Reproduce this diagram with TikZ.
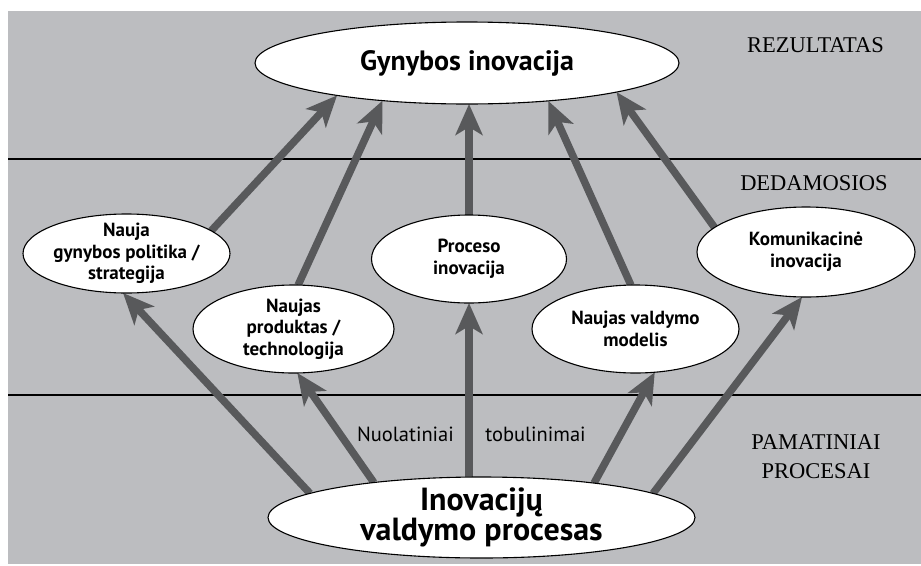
\documentclass[tikz,border=0pt]{standalone}
\usepackage{fontspec}
\setmainfont{Liberation Serif}
\newfontfamily\ovalfont{PT Sans}
\usetikzlibrary{arrows.meta,shapes.geometric}
\definecolor{panelgray}{RGB}{188,189,192}
\definecolor{arrowgray}{RGB}{88,89,91}
\pgfdeclarelayer{bg}
\pgfsetlayers{bg,main}

\begin{document}
\begin{tikzpicture}[x=1pt,y=-1pt,
  oval/.style={ellipse,draw=black,line width=1.1pt,fill=white,inner sep=-20pt,outer sep=0pt,
    align=center,font=\ovalfont\bfseries\fontsize{19}{21.7}\selectfont},
  bigoval/.style={oval,font=\ovalfont\bfseries\fontsize{32}{30}\selectfont},
  flow/.style={draw=arrowgray,line width=7.5pt,-{Stealth[length=31pt,width=27pt,inset=8pt]}},
  levellabel/.style={font=\fontsize{22.5}{29}\selectfont,align=center},
  notelabel/.style={font=\ovalfont\fontsize{20.5}{22}\selectfont}]

  \useasboundingbox (0,0) rectangle (921,565);
  \coordinate (nw) at (8,11);
  \coordinate (se) at (921,564);

  % result level
  \node[bigoval,minimum width=424pt,minimum height=82pt,font=\ovalfont\bfseries\fontsize{28}{30}\selectfont]
    (result) at (467,63) {Gynybos inovacija};

  % components
  \node[oval,minimum width=207pt,minimum height=79pt] (policy) at (126.5,253.5) {Nauja\\gynybos politika /\\strategija};
  \node[oval,minimum width=201pt,minimum height=88pt] (product) at (293.5,329) {Naujas\\produktas /\\technologija};
  \node[oval,minimum width=195pt,minimum height=88pt] (process) at (469,259) {Proceso\\inovacija};
  \node[oval,minimum width=207pt,minimum height=88pt] (model) at (635.5,329) {Naujas valdymo\\modelis};
  \node[oval,minimum width=218pt,minimum height=90pt] (comm) at (806,252) {Komunikacinė\\inovacija};

  % base
  \node[bigoval,minimum width=427pt,minimum height=81pt] (base) at (481.5,517.5) {Inovacijų\\valdymo procesas};

  \node[notelabel] (cont1) at (405.5,434) {Nuolatiniai};
  \node[notelabel] (cont2) at (535.5,434) {tobulinimai};

  \node[levellabel] (lvl1) at (815.5,45) {REZULTATAS};
  \node[levellabel] (lvl2) at (814,183.5) {DEDAMOSIOS};
  \node[levellabel] (lvl3) at (816,456.5) {PAMATINIAI\\PROCESAI};

  \begin{pgfonlayer}{bg}
    \fill[panelgray] (nw) rectangle (se);
    \draw[line width=1.2pt] (nw |- 0,159) -- (se |- 0,159);
    \draw[line width=1.2pt] (nw |- 0,395) -- (se |- 0,395);

    % base to components
    \draw[flow] (base.172.4) -- (policy.265);
    \draw[flow] (base.162.4) -- (product.275);
    \draw[flow] (process.south |- base.north) -- (process.south);
    \draw[flow] (base.17.7) -- (model.294.3);
    \draw[flow] (base.8) -- (comm.265);

    % components to result
    \draw[flow] (policy.15) -- (result.194.4);
    \draw[flow] (product.84) -- (result.204.1);
    \draw[flow] (process.north) -- (process.north |- result.south);
    \draw[flow] (model.96) -- (result.335.2);
    \draw[flow] (comm.165.7) -- (result.349.1);
  \end{pgfonlayer}
\end{tikzpicture}
\end{document}
